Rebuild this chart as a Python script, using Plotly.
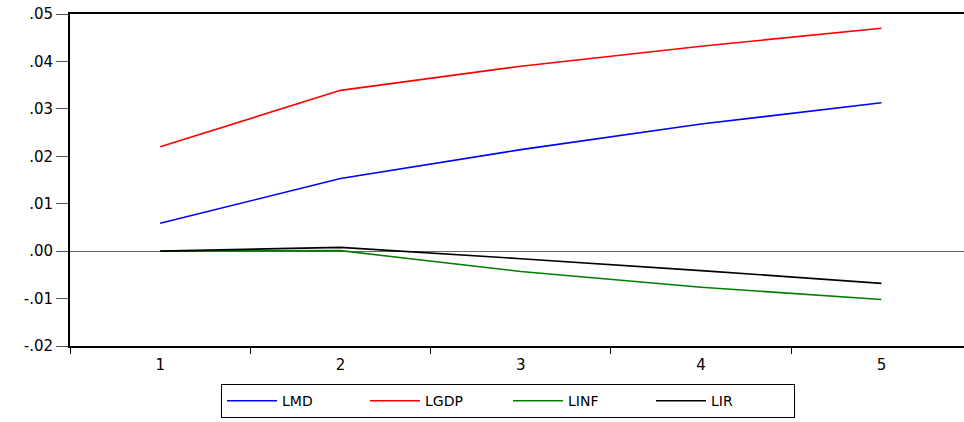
import plotly.graph_objects as go

periods = [1, 2, 3, 4, 5]
lmd = [0.0059, 0.0153, 0.0214, 0.0268, 0.0313]
lgdp = [0.0220, 0.0339, 0.0390, 0.0432, 0.0470]
linf = [0.0000, 0.0001, -0.0043, -0.0076, -0.0102]
lir = [0.0000, 0.0008, -0.0016, -0.0041, -0.0068]

series_names = ["LMD", "LGDP", "LINF", "LIR"]
series_colors = ["#0000ff", "#ff0000", "#008000", "#000000"]
series_values = [lmd, lgdp, linf, lir]

y_tickvals = [0.05, 0.04, 0.03, 0.02, 0.01, 0.00, -0.01, -0.02]
y_ticktext = [".05", ".04", ".03", ".02", ".01", ".00", "-.01", "-.02"]

fig = go.Figure()
for name, color, vals in zip(series_names, series_colors, series_values):
    fig.add_trace(go.Scatter(x=periods, y=vals, mode="lines", name=name,
                             line=dict(color=color, width=1.6)))

fig.update_layout(
    width=964, height=422,
    margin=dict(l=70, r=0, t=14, b=76, autoexpand=False),
    paper_bgcolor="white", plot_bgcolor="white",
    font=dict(family="DejaVu Sans, Liberation Sans, Arial, sans-serif", size=15, color="black"),
    showlegend=True,
    legend=dict(orientation="h", x=(221 - 70) / 894, xanchor="left", y=-0.115, yanchor="top",
                bordercolor="black", borderwidth=1, bgcolor="white",
                font=dict(size=14), entrywidth=78, itemwidth=50,
                traceorder="normal"),
)
fig.update_xaxes(
    range=[0.5, 5.458], tickvals=periods, ticktext=[str(p) for p in periods],
    ticks="", showgrid=False, zeroline=False,
    showline=True, linecolor="black", linewidth=2, mirror=True,
    tickfont=dict(size=15), ticklabelstandoff=4,
    minor=dict(tickmode="array", tickvals=[0.5, 1.5, 2.5, 3.5, 4.5],
               ticks="outside", ticklen=6, tickwidth=1, tickcolor="black"),
)
fig.update_yaxes(
    range=[-0.02, 0.05], tickvals=y_tickvals, ticktext=y_ticktext,
    ticks="outside", ticklen=12, tickwidth=1, tickcolor="#555555",
    showgrid=False, zeroline=True, zerolinecolor="#666666", zerolinewidth=1,
    showline=True, linecolor="black", linewidth=2, mirror=False,
    tickfont=dict(size=15),
)
fig.write_html("out.html", config={"displayModeBar": False},
               post_script="document.body.style.margin='0px';")
